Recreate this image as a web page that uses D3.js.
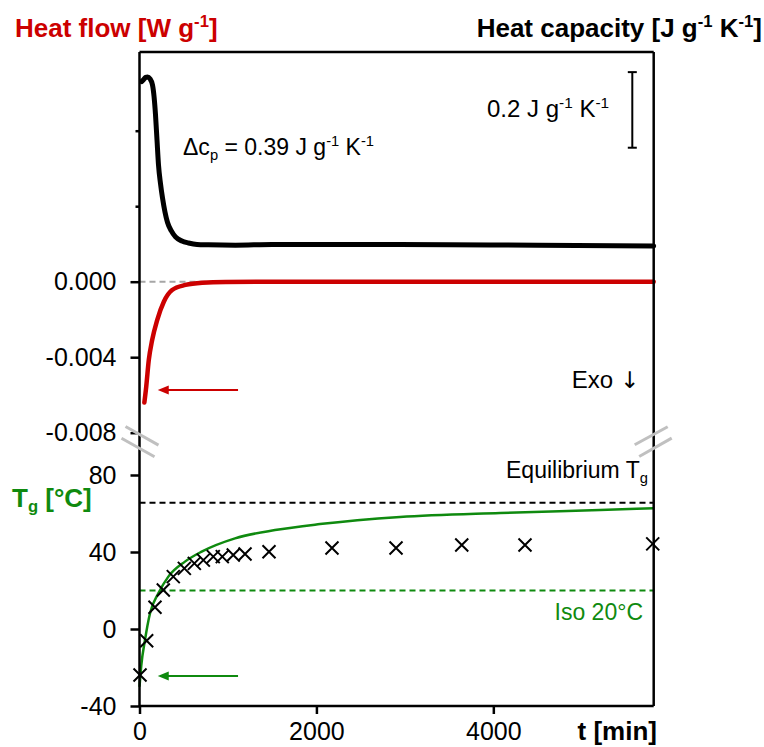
<!DOCTYPE html>
<html>
<head>
<meta charset="utf-8">
<script src="https://cdn.jsdelivr.net/npm/d3@7"></script>
<style>
  html, body { margin: 0; padding: 0; background: #fff; }
  svg { display: block; }
  text { font-family: Arial, "Liberation Sans", sans-serif; }
</style>
</head>
<body>
<svg id="chart" width="764" height="747"></svg>
<script>
// ---------------- data ----------------
// Heat capacity curve (time in min, cp in J g-1 K-1; arbitrary baseline 1.5)
const cpTime = [25, 45, 70, 90, 120, 147, 165, 181, 198, 215, 238, 260, 288, 316, 360, 407, 480, 554, 650, 780, 1085, 1500, 2500, 3500, 4500, 5813];
const cpValue = [1.935, 1.940, 1.946, 1.947, 1.942, 1.926, 1.894, 1.847, 1.780, 1.714, 1.664, 1.627, 1.590, 1.563, 1.540, 1.524, 1.513, 1.508, 1.504, 1.503, 1.502, 1.504, 1.504, 1.503, 1.502, 1.500];

// Heat flow curve (W g-1)
const hfTime = [55, 76, 105, 143, 200, 275, 369, 520, 709, 972, 1500, 3000, 4500, 5813];
const hfValue = [-0.0064, -0.00556, -0.00415, -0.00309, -0.00203, -0.00106, -0.00044, -0.00017, -0.00005, -0.00001, 0, 0, 0, 0];

// Tg model curve (°C)
const tgFitTime = [0, 20, 62, 119, 213, 326, 514, 703, 1080, 1532, 2040, 2945, 4076, 5207, 5813];
const tgFitValue = [-30, -19, -5.7, 8.2, 18.5, 27.2, 35, 40.2, 47.1, 51.4, 54.5, 58.2, 60.3, 61.8, 62.7];

// Tg measured points (°C)
const tgPtTime = [6, 81, 175, 269, 382, 507, 620, 722, 834, 936, 1060, 1193, 1464, 2176, 2900, 3643, 4358, 5802];
const tgPtValue = [-23.9, -6.1, 11.3, 20.3, 27.2, 31.5, 34.1, 35.8, 37.6, 37.6, 38.4, 39.0, 40.1, 42.1, 42.1, 43.6, 43.6, 44.2];

const tgEquilibrium = 65.6;
const tgIso = 20;

// tick values / labels
const xTicks = [0, 2000, 4000];
const hfTicks = [-0.008, -0.004, 0];
const hfMinorTicks = [0.004, 0.008];
const tgTicks = [-40, 0, 40, 80];
const cpScaleBar = [1.76, 1.96];

// ---------------- scales ----------------
const svg = d3.select("#chart");
const pLeft = 139.5, pRight = 653.7, pTop = 52, pBottom = 706;

const x = d3.scaleLinear().domain([0, 5813]).range([pLeft, pRight]);
const yHF = d3.scaleLinear().domain([-0.008, 0]).range([432.7, 281.7]);
const yTg = d3.scaleLinear().domain([-40, 80]).range([pBottom, 475]);
const yCp = d3.scaleLinear().domain([1.5, 2.0]).range([246, 57]);

const red = "#cc0000", green = "#0f8a0f";
const fontSize = 25;

// ---------------- reference lines ----------------
svg.append("line")
  .attr("x1", x(0)).attr("x2", x(5813))
  .attr("y1", yHF(0)).attr("y2", yHF(0))
  .attr("stroke", "#a6a6a6").attr("stroke-width", 2).attr("stroke-dasharray", "6,4");

svg.append("line")
  .attr("x1", x(0)).attr("x2", x(5813))
  .attr("y1", yTg(tgEquilibrium)).attr("y2", yTg(tgEquilibrium))
  .attr("stroke", "#000").attr("stroke-width", 2).attr("stroke-dasharray", "6,4");

svg.append("line")
  .attr("x1", x(0)).attr("x2", x(5813))
  .attr("y1", yTg(tgIso)).attr("y2", yTg(tgIso))
  .attr("stroke", green).attr("stroke-width", 2).attr("stroke-dasharray", "6,4");

// ---------------- curves ----------------
const cpData = cpTime.map((t, i) => [t, cpValue[i]]);
const hfData = hfTime.map((t, i) => [t, hfValue[i]]);
const tgFit = tgFitTime.map((t, i) => [t, tgFitValue[i]]);
const tgPts = tgPtTime.map((t, i) => [t, tgPtValue[i]]);

svg.append("path").datum(cpData)
  .attr("fill", "none").attr("stroke", "#000").attr("stroke-width", 5)
  .attr("stroke-linecap", "round").attr("stroke-linejoin", "round")
  .attr("d", d3.line().x(d => x(d[0])).y(d => yCp(d[1])).curve(d3.curveMonotoneX));

svg.append("path").datum(hfData)
  .attr("fill", "none").attr("stroke", red).attr("stroke-width", 4.5)
  .attr("stroke-linecap", "round").attr("stroke-linejoin", "round")
  .attr("d", d3.line().x(d => x(d[0])).y(d => yHF(d[1])).curve(d3.curveMonotoneX));

svg.append("path").datum(tgFit)
  .attr("fill", "none").attr("stroke", green).attr("stroke-width", 2.5)
  .attr("d", d3.line().x(d => x(d[0])).y(d => yTg(d[1])).curve(d3.curveMonotoneX));

svg.append("g").selectAll("path").data(tgPts).join("path")
  .attr("transform", d => `translate(${x(d[0])},${yTg(d[1])})`)
  .attr("d", "M-6.5,-6.5L6.5,6.5M-6.5,6.5L6.5,-6.5")
  .attr("stroke", "#000").attr("stroke-width", 2).attr("fill", "none");

// ---------------- frame & axes ----------------
const frame = svg.append("g").attr("stroke", "#000").attr("stroke-width", 2.5).attr("fill", "none");
frame.append("line").attr("x1", pLeft).attr("x2", pRight).attr("y1", pTop).attr("y2", pTop);
frame.append("line").attr("x1", pRight).attr("x2", pRight).attr("y1", pTop).attr("y2", pBottom);
frame.append("line").attr("x1", pLeft).attr("x2", pLeft).attr("y1", pTop).attr("y2", pBottom);
frame.append("line").attr("x1", pLeft).attr("x2", pRight).attr("y1", pBottom).attr("y2", pBottom);

function styleAxis(g) {
  g.select(".domain").remove();
  g.selectAll(".tick line").attr("stroke", "#000").attr("stroke-width", 2.5);
  g.selectAll(".tick text").attr("fill", "#000").attr("font-size", fontSize)
    .attr("font-family", 'Arial, "Liberation Sans", sans-serif');
}

svg.append("g").attr("transform", `translate(${pLeft},0)`)
  .call(d3.axisLeft(yHF).tickValues(hfTicks).tickSize(9).tickPadding(14).tickFormat(d => d.toFixed(3)))
  .call(styleAxis);

svg.append("g").attr("transform", `translate(${pLeft},0)`)
  .call(d3.axisLeft(yHF).tickValues(hfMinorTicks).tickSize(4).tickFormat(""))
  .call(styleAxis);

svg.append("g").attr("transform", `translate(${pLeft},0)`)
  .call(d3.axisLeft(yTg).tickValues(tgTicks).tickSize(9).tickPadding(14).tickFormat(d => String(d)))
  .call(styleAxis);

svg.append("g").attr("transform", `translate(0,${pBottom})`)
  .call(d3.axisBottom(x).tickValues(xTicks).tickSize(8).tickPadding(8).tickFormat(d => String(d)))
  .call(styleAxis);

// ---------------- axis break marks ----------------
const brk = svg.append("g").attr("stroke", "#c0c0c0").attr("stroke-width", 3);
const b1 = yHF(-0.008) + 1.6, b2 = b1 + 14;
brk.append("line").attr("x1", pLeft - 14).attr("y1", b1 - 7.8).attr("x2", pLeft + 19).attr("y2", b1 + 10.8);
brk.append("line").attr("x1", pLeft - 18).attr("y1", b2 - 10).attr("x2", pLeft + 15).attr("y2", b2 + 8.5);
brk.append("line").attr("x1", pRight - 19).attr("y1", b1 + 10.4).attr("x2", pRight + 14).attr("y2", b1 - 7.6);
brk.append("line").attr("x1", pRight - 14.5).attr("y1", b2 + 8.2).attr("x2", pRight + 18).attr("y2", b2 - 10.2);

// ---------------- arrows ----------------
function arrow(t0, t1, yv, color) {
  const xs = x(t0), xe = x(t1);
  svg.append("line").attr("x1", xe).attr("x2", xs + 8).attr("y1", yv).attr("y2", yv)
    .attr("stroke", color).attr("stroke-width", 2);
  svg.append("path").attr("d", `M${xs},${yv}L${xs + 11},${yv - 4.5}L${xs + 11},${yv + 4.5}Z`)
    .attr("fill", color);
}
arrow(206, 1114, yHF(-0.00574), red);
arrow(206, 1114, yTg(-24.4), green);

// ---------------- scale bar ----------------
const sb = svg.append("g").attr("stroke", "#000").attr("stroke-width", 2);
const sbx = 632.3;
sb.append("line").attr("x1", sbx).attr("x2", sbx).attr("y1", yCp(cpScaleBar[0])).attr("y2", yCp(cpScaleBar[1]));
sb.append("line").attr("x1", sbx - 4.5).attr("x2", sbx + 4.5).attr("y1", yCp(cpScaleBar[0])).attr("y2", yCp(cpScaleBar[0]));
sb.append("line").attr("x1", sbx - 4.5).attr("x2", sbx + 4.5).attr("y1", yCp(cpScaleBar[1])).attr("y2", yCp(cpScaleBar[1]));

// ---------------- texts ----------------
function richText(g, parts, opts) {
  const t = g.append("text").attr("x", opts.x).attr("y", opts.y)
    .attr("font-size", opts.size).attr("font-weight", opts.weight || "normal")
    .attr("fill", opts.color || "#000").attr("text-anchor", opts.anchor || "start");
  let shift = 0;
  parts.forEach(p => {
    const [str, kind] = p;
    const sp = t.append("tspan").text(str);
    let target = 0, fs = opts.size;
    if (kind === "sup") { target = -0.38 * opts.size; fs = opts.size * 0.64; }
    if (kind === "sub") { target = 0.22 * opts.size; fs = opts.size * 0.64; }
    sp.attr("dy", target - shift).attr("font-size", fs);
    if (kind === "sym") sp.attr("font-family", '"DejaVu Sans", sans-serif').attr("font-size", opts.size * 0.95);
    shift = target;
  });
  return t;
}

richText(svg, [["Heat flow [W g"], ["-1", "sup"], ["]"]],
  { x: 15, y: 37, size: 26, weight: "bold", color: red });
richText(svg, [["Heat capacity [J g"], ["-1", "sup"], [" K"], ["-1", "sup"], ["]"]],
  { x: 762, y: 37, size: 26, weight: "bold", anchor: "end" });
richText(svg, [["T"], ["g", "sub"], [" [°C]"]],
  { x: 12, y: 506.7, size: 26, weight: "bold", color: green });
richText(svg, [["t [min]"]],
  { x: 657, y: 740, size: 26, weight: "bold", anchor: "end" });

richText(svg, [["Δc"], ["p", "sub"], [" = 0.39 J g"], ["-1", "sup"], [" K"], ["-1", "sup"]],
  { x: 183, y: 155, size: 23 });
richText(svg, [["0.2 J g"], ["-1", "sup"], [" K"], ["-1", "sup"]],
  { x: 487, y: 116.7, size: 24 });
richText(svg, [["Exo "], ["↓", "sym"]],
  { x: 639, y: 387.7, size: 24, anchor: "end" });
richText(svg, [["Equilibrium T"], ["g", "sub"]],
  { x: 648, y: 477.7, size: 23, anchor: "end" });
richText(svg, [["Iso 20°C"]],
  { x: 643, y: 620, size: 23, anchor: "end", color: green });
</script>
</body>
</html>
